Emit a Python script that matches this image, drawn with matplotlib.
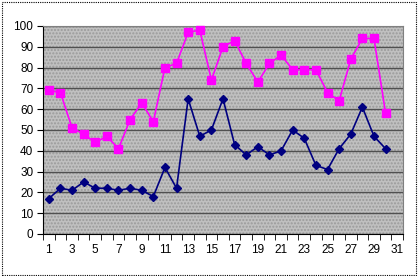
import numpy as np
import matplotlib.pyplot as plt
from matplotlib.patches import Rectangle

# === Data ===
days = np.arange(1, 31)
pink_values = [69, 68, 51, 48, 44, 47, 41, 55, 63, 54, 80, 82, 97, 98, 74,
               90, 93, 82, 73, 82, 86, 79, 79, 79, 68, 64, 84, 94, 94, 58]
navy_values = [17, 22, 21, 25, 22, 22, 21, 22, 21, 18, 32, 22, 65, 47, 50,
               65, 43, 38, 42, 38, 40, 50, 46, 33, 31, 41, 48, 61, 47, 41]
n_categories = 31
x_ticklabels = [str(i) for i in range(1, n_categories + 1, 2)]

plt.rcParams['font.family'] = ['Liberation Sans', 'DejaVu Sans']

W, H = 418, 276
fig = plt.figure(figsize=(W / 100, H / 100), dpi=100)
ax = fig.add_axes([43 / W, (H - 234) / H, 360 / W, 208 / H])

# plot area: Excel-style gray pattern
ax.set_facecolor('#c0c0c0')
ax.add_patch(Rectangle((0, 0), 1, 1, transform=ax.transAxes, facecolor='none',
                       edgecolor='#9a9a9a', hatch='.....', linewidth=0, zorder=0))

ax.plot(days, pink_values, color='#ff00ff', lw=1.2, marker='s', ms=6,
        mec='#ff00ff', mfc='#ff00ff', zorder=3, clip_on=False)
ax.plot(days, navy_values, color='#000080', lw=1.2, marker='D', ms=4.5,
        mec='#000080', mfc='#000080', zorder=3, clip_on=False)

ax.set_xlim(0.5, n_categories + 0.5)
ax.set_ylim(0, 100)
ax.set_yticks(np.arange(0, 101, 10))
ax.yaxis.grid(True, color='#505050', lw=1)
ax.set_axisbelow(True)

# category axis: labels at every other category, ticks between categories
ax.set_xticks(range(1, n_categories + 1, 2))
ax.set_xticklabels(x_ticklabels)
ax.set_xticks(np.arange(0.5, n_categories + 1, 1), minor=True)
ax.tick_params(axis='x', which='major', length=0, pad=7, labelsize=8.5)
ax.tick_params(axis='x', which='minor', length=4, direction='out', color='black')
ax.tick_params(axis='y', length=4, direction='out', labelsize=8.5, pad=3)

for side in ['top', 'right']:
    ax.spines[side].set_color('#808080')
for side in ['left', 'bottom']:
    ax.spines[side].set_color('black')

# dotted chart border
fig.patches.append(Rectangle((1.5 / W, 1.5 / H), (W - 4) / W, (H - 3) / H,
                             transform=fig.transFigure, fill=False,
                             edgecolor='black', lw=0.8, linestyle=(0, (1, 1))))

plt.savefig('out.png', dpi=100)
plt.close()
